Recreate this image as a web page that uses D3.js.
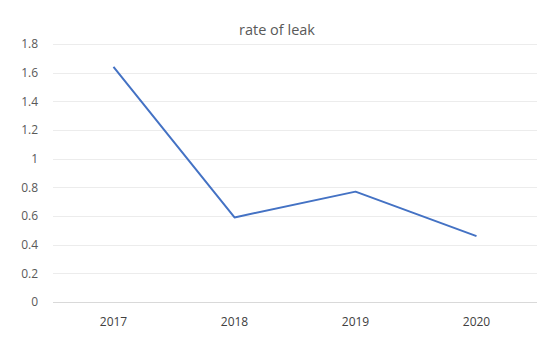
<!DOCTYPE html>
<html><head><meta charset="utf-8">
<script src="https://cdn.jsdelivr.net/npm/d3@7"></script>
<style>body{margin:0;background:#fff}svg{display:block}</style>
</head><body>
<svg id="c" width="550" height="347"></svg>
<script>
const categories = ["2017","2018","2019","2020"];
const values = [1.64, 0.59, 0.77, 0.46];
const yTicks = [0,0.2,0.4,0.6,0.8,1,1.2,1.4,1.6,1.8];
const title = "rate of leak";

const svg = d3.select("#c");
const m = {l:53, r:13, t:44, b:45};
const W = 550, H = 347;
const x = d3.scaleBand().domain(categories).range([m.l, W-m.r]);
const y = d3.scaleLinear().domain([0,1.8]).range([H-m.b, m.t]);
const font = "'Open Sans', 'Liberation Sans', sans-serif";

svg.append("text").attr("x",277).attr("y",35).attr("text-anchor","middle")
  .attr("font-family",font).attr("font-size",14.5).attr("fill","#595959").text(title);

// gridlines
svg.append("g").selectAll("line").data(yTicks).join("line")
  .attr("x1",m.l).attr("x2",W-m.r)
  .attr("y1",d=>Math.round(y(d))+0.5).attr("y2",d=>Math.round(y(d))+0.5)
  .attr("stroke",d=>d===0?"#d9d9d9":"#ececec").attr("stroke-width",1);

// y axis labels
const ya = svg.append("g").attr("transform",`translate(${m.l},0)`)
  .call(d3.axisLeft(y).tickValues(yTicks).tickSize(0).tickPadding(15).tickFormat(d=>d3.format("~g")(d)));
ya.select(".domain").remove();
ya.selectAll("text").attr("font-family",font).attr("font-size",12).attr("fill","#595959");

// x axis labels
const xa = svg.append("g").attr("transform",`translate(0,${H-m.b})`)
  .call(d3.axisBottom(x).tickSize(0).tickPadding(15));
xa.select(".domain").remove();
xa.selectAll("text").attr("font-family",font).attr("font-size",12).attr("fill","#404040");

// line
const line = d3.line().x((d,i)=>x(categories[i])+x.bandwidth()/2).y(d=>y(d));
svg.append("path").datum(values).attr("d",line).attr("fill","none")
  .attr("stroke","#4472C4").attr("stroke-width",2).attr("stroke-linejoin","round");
</script>
</body></html>
